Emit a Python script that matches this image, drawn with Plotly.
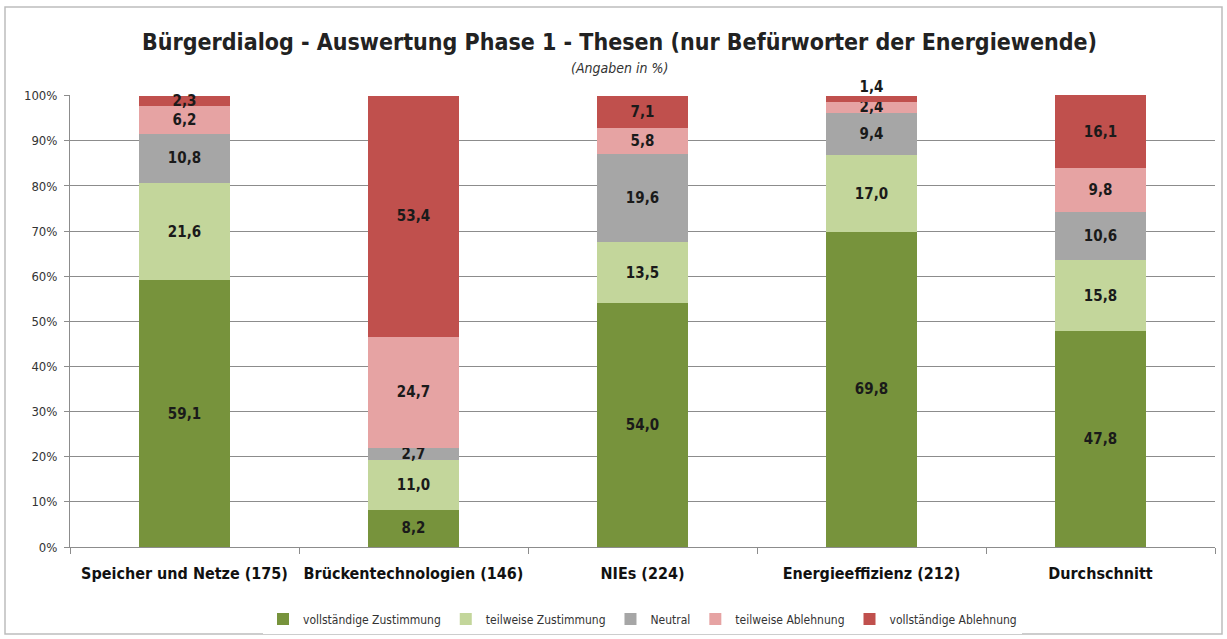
import plotly.graph_objects as go

categories = ["Speicher und Netze (175)", "Brückentechnologien (146)", "NIEs (224)",
              "Energieeffizienz (212)", "Durchschnitt"]
series_names = ["vollständige Zustimmung", "teilweise Zustimmung", "Neutral",
                "teilweise Ablehnung", "vollständige Ablehnung"]
voll_zust = [59.1, 8.2, 54.0, 69.8, 47.8]
teil_zust = [21.6, 11.0, 13.5, 17.0, 15.8]
neutral = [10.8, 2.7, 19.6, 9.4, 10.6]
teil_abl = [6.2, 24.7, 5.8, 2.4, 9.8]
voll_abl = [2.3, 53.4, 7.1, 1.4, 16.1]
y_ticks = [0, 10, 20, 30, 40, 50, 60, 70, 80, 90, 100]
y_ticktext = [f"{v}%" for v in y_ticks]

colors = ["#77933C", "#C3D69B", "#A6A6A6", "#E6A3A3", "#C0504D"]
series = [voll_zust, teil_zust, neutral, teil_abl, voll_abl]

FONT = "Liberation Sans Narrow, DejaVu Sans Condensed, Arial Narrow, sans-serif"
LABEL_FONT = dict(family=FONT, size=15, color="#1a1a1a", weight="bold")


def fmt(v):
    return f"{v:.1f}".replace(".", ",")


fig = go.Figure()
for i, (name, vals, col) in enumerate(zip(series_names, series, colors)):
    last = i == len(series) - 1
    texts = ["" if (last and v < 2) else fmt(v) for v in vals]
    fig.add_trace(go.Bar(
        x=categories, y=vals, name=name,
        marker=dict(color=col, line=dict(width=0)),
        text=texts, textposition="inside", insidetextanchor="middle",
        textangle=0, textfont=LABEL_FONT, cliponaxis=False,
        hoverinfo="skip",
    ))

# labels of very thin top segments sit just above the stack
totals = [sum(s[k] for s in series) for k in range(len(categories))]
small_x = [c for c, v in zip(categories, voll_abl) if v < 2]
small_y = [t for t, v in zip(totals, voll_abl) if v < 2]
small_t = [fmt(v) for v in voll_abl if v < 2]
fig.add_trace(go.Scatter(
    x=small_x, y=small_y, text=small_t, mode="text", textposition="top center",
    textfont=LABEL_FONT, showlegend=False, cliponaxis=False, hoverinfo="skip",
))

H = 452.0
fig.update_layout(
    barmode="stack",
    bargap=0.605,
    width=1227, height=639,
    margin=dict(l=70, r=12, t=95, b=92, autoexpand=False),
    paper_bgcolor="white", plot_bgcolor="white",
    font=dict(family=FONT, color="#222"),
    uniformtext=dict(minsize=15, mode="show"),
    showlegend=True,
    legend=dict(orientation="h", x=0.5, xanchor="center",
                yref="container", y=(639 - 619) / 639, yanchor="middle",
                font=dict(family=FONT, size=12, color="#333"), traceorder="normal",
                itemwidth=30),
    xaxis=dict(showline=True, linecolor="#8c8c8c", linewidth=1,
               ticks="outside", tickson="boundaries", ticklen=6, tickcolor="#8c8c8c",
               ticklabelstandoff=12,
               tickfont=dict(family=FONT, size=16, color="#111", weight="bold"),
               range=[-0.5, 4.5]),
    yaxis=dict(range=[0, 100.15], tickvals=y_ticks, ticktext=y_ticktext,
               showline=True, linecolor="#8c8c8c", linewidth=1,
               ticks="outside", ticklen=5, tickcolor="#8c8c8c",
               ticklabelstandoff=4,
               showgrid=True, gridcolor="#8c8c8c", gridwidth=1,
               tickfont=dict(family=FONT, size=13, color="#333")),
)

fig.add_annotation(text="<b>Bürgerdialog - Auswertung Phase 1 - Thesen (nur Befürworter der Energiewende)</b>",
                   xref="paper", yref="paper", x=(619 - 70) / 1145, y=(547 - 42) / H,
                   xanchor="center", yanchor="middle", showarrow=False,
                   font=dict(family=FONT, size=23, color="#222"))
fig.add_annotation(text="<i>(Angaben in %)</i>",
                   xref="paper", yref="paper", x=(619 - 70) / 1145, y=(547 - 68) / H,
                   xanchor="center", yanchor="middle", showarrow=False,
                   font=dict(family=FONT, size=14, color="#333"))

# outer chart frame
fig.add_shape(type="rect", xref="paper", yref="paper",
              x0=(5 - 70) / 1145, x1=(1222 - 70) / 1145,
              y0=(547 - 634) / H, y1=(547 - 7) / H,
              line=dict(color="#bdbdbd", width=1.5), fillcolor="rgba(0,0,0,0)", layer="below")

fig.write_html("out.html", config={"displayModeBar": False},
               post_script="document.body.style.margin='0';")
